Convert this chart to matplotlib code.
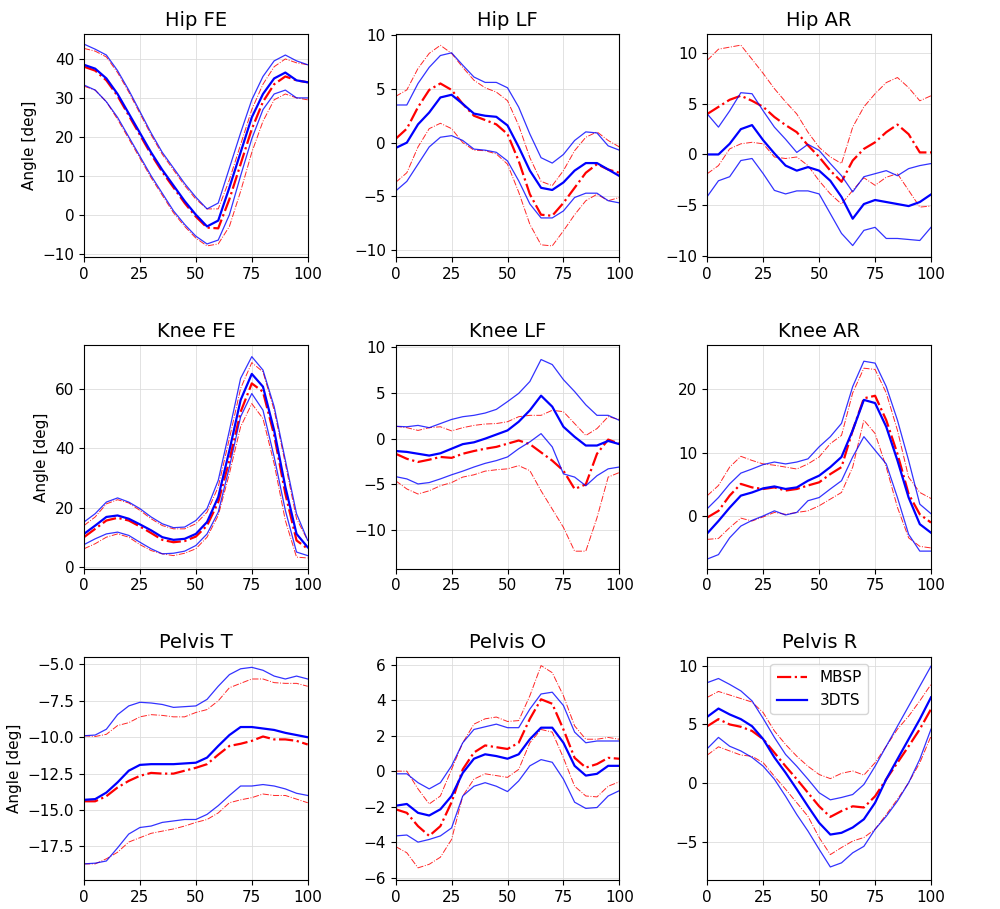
import matplotlib
matplotlib.use("Agg")
import matplotlib.pyplot as plt

# gait cycle [%]
cycle = [0, 5, 10, 15, 20, 25, 30, 35, 40, 45, 50, 55, 60, 65, 70, 75, 80, 85, 90, 95, 100]

titles = ["Hip FE", "Hip LF", "Hip AR",
          "Knee FE", "Knee LF", "Knee AR",
          "Pelvis T", "Pelvis O", "Pelvis R"]

# ---- Hip FE
hip_fe_mbsp_up = [42.7, 42, 40.5, 36.5, 31.5, 26, 20.5, 15.5, 11.5, 7.5, 4, 1.5, 1.5, 9, 18, 27, 33.5, 38, 40, 39, 38.5]
hip_fe_mbsp = [38, 37, 34.5, 30.5, 25.5, 20.5, 15.5, 11, 7, 3, -0.5, -3.3, -3.5, 4, 13, 22, 29, 33.5, 35.5, 34.5, 34]
hip_fe_mbsp_lo = [33, 32, 29, 24.5, 19.5, 14.5, 9.5, 5, 0.5, -3, -6, -8, -7.5, -3, 6, 16, 24, 29.5, 31, 30, 29.5]
hip_fe_3dts_up = [43.8, 42.5, 41, 37, 32, 26.5, 21, 16, 12, 8, 4.5, 1.5, 3, 12, 21, 29.5, 35.5, 39.5, 41, 39.5, 38.5]
hip_fe_3dts = [38.5, 37.5, 35, 31, 26, 21, 16, 11.5, 7.5, 3.5, 0, -3, -1.5, 7, 16, 25, 31, 35, 36.5, 34.5, 34]
hip_fe_3dts_lo = [33.3, 32, 29, 25, 20, 15, 10, 5.5, 1, -2.5, -5.5, -7.5, -6.5, 0, 10, 19.5, 27, 31, 32, 30, 30]

# ---- Hip LF
hip_lf_mbsp_up = [4.3, 4.9, 6.9, 8.3, 9.05, 8.3, 7, 5.8, 5.1, 4.7, 3.9, 1.6, -1.4, -3.6, -4.0, -2.6, -0.75, 0.5, 1.0, 0.2, -0.4]
hip_lf_mbsp = [0.35, 1.3, 3.3, 4.9, 5.5, 4.9, 3.6, 2.5, 2.1, 1.7, 0.8, -1.7, -4.8, -6.7, -6.8, -5.6, -4.2, -2.8, -2.0, -2.5, -2.8]
hip_lf_mbsp_lo = [-3.7, -2.8, -0.4, 1.3, 1.8, 1.3, 0, -0.7, -0.75, -1.05, -2, -4.6, -7.6, -9.5, -9.6, -8.2, -6.7, -5.4, -4.8, -5.4, -5.1]
hip_lf_3dts_up = [3.5, 3.5, 5.5, 7.0, 8.1, 8.35, 7.2, 6.1, 5.6, 5.6, 5.1, 3.3, 0.8, -1.4, -1.9, -1.1, 0.2, 1.0, 0.9, -0.3, -0.7]
hip_lf_3dts = [-0.5, 0, 1.7, 2.8, 4.2, 4.45, 3.6, 2.7, 2.5, 2.4, 1.6, -0.4, -2.6, -4.2, -4.4, -3.7, -2.6, -1.9, -1.9, -2.5, -3.1]
hip_lf_3dts_lo = [-4.5, -3.6, -2, -0.4, 0.5, 0.65, 0.2, -0.6, -0.7, -0.9, -1.7, -3.55, -5.7, -7.0, -7.0, -6.35, -5.1, -4.7, -4.7, -5.4, -5.6]

# ---- Hip AR
hip_ar_mbsp_up = [9.3, 10.4, 10.6, 10.8, 9.4, 8.0, 6.5, 5.2, 4.0, 2.2, 0.7, -0.25, -0.9, 2.7, 4.7, 6.0, 7.1, 7.6, 6.6, 5.3, 5.8]
hip_ar_mbsp = [4.0, 4.7, 5.4, 5.8, 5.3, 4.7, 3.7, 2.9, 2.2, 0.9, -0.25, -1.6, -2.7, -0.6, 0.55, 1.2, 2.2, 2.95, 2.0, 0.2, 0.2]
hip_ar_mbsp_lo = [-1.9, -1.1, 0.55, 1.05, 1.2, 1.05, -0.25, -0.4, -0.25, -1.1, -2.6, -3.9, -4.9, -3.55, -2.3, -3.05, -2.25, -1.9, -3.55, -5.2, -5.1]
hip_ar_3dts_up = [4.0, 2.7, 4.3, 6.1, 6.0, 4.3, 2.7, 1.5, 0.2, 1.0, 0.4, -0.9, -2.1, -3.7, -2.2, -1.9, -1.6, -2.1, -1.4, -1.1, -0.9]
hip_ar_3dts = [0, 0, 1.05, 2.5, 2.9, 1.4, 0.1, -1.1, -1.6, -1.25, -1.6, -2.6, -4.2, -6.35, -4.9, -4.5, -4.7, -4.9, -5.1, -4.7, -3.95]
hip_ar_3dts_lo = [-4.15, -2.6, -2.2, -0.6, -0.4, -1.9, -3.55, -3.9, -3.6, -3.6, -3.9, -5.85, -7.8, -9.0, -7.5, -7.2, -8.3, -8.3, -8.4, -8.5, -7.2]

# ---- Knee FE
knee_fe_mbsp_up = [14, 16.9, 21.3, 22.7, 21.6, 19.1, 16.3, 14, 12.9, 12.9, 14.6, 18.5, 27, 43.3, 60.1, 68.8, 65.7, 52.8, 34.8, 16.3, 9]
knee_fe_mbsp = [10.1, 12.9, 15.7, 16.6, 15.7, 13.7, 11.5, 9.2, 8.4, 8.8, 10.3, 14, 21.9, 36, 52.2, 61.8, 59, 44.4, 24.7, 9, 6.2]
knee_fe_mbsp_lo = [6.2, 7.9, 10.1, 11.2, 10.1, 7.6, 5.6, 4.5, 3.9, 4.7, 6.2, 10.1, 17.4, 31.5, 47.2, 55, 50, 34.8, 15.7, 3.4, 3.1]
knee_fe_3dts_up = [15.2, 18, 21.9, 23.3, 21.9, 19.7, 16.9, 14.6, 13.3, 13.5, 15.7, 19.7, 29.2, 46, 63.5, 70.8, 66.3, 54, 36, 18, 9]
knee_fe_3dts = [11.2, 14, 16.9, 17.4, 16.3, 14.4, 12.4, 10.1, 9.2, 9.55, 11.2, 15.2, 23.6, 39.3, 56.2, 65, 60.7, 46, 27, 11.2, 6.7]
knee_fe_3dts_lo = [7.6, 9.55, 11.2, 11.8, 10.7, 8.4, 6.2, 4.5, 4.7, 5.4, 7.3, 11.2, 18.5, 33.7, 50.6, 58.4, 52.8, 37.1, 19.1, 5.1, 3.9]

# ---- Knee LF
knee_lf_mbsp_up = [1.35, 1.2, 0.9, 1.2, 1.3, 0.85, 1.2, 1.45, 1.6, 1.65, 1.85, 2.4, 2.55, 2.55, 3.1, 2.95, 1.65, 0.35, 1.1, 2.4, 2.1]
knee_lf_mbsp = [-1.65, -2.2, -2.55, -2.3, -2.0, -2.1, -1.65, -1.35, -1.1, -0.9, -0.55, -0.2, -0.6, -1.5, -2.4, -3.5, -5.5, -5.0, -1.65, -0.1, -0.55]
knee_lf_mbsp_lo = [-4.6, -5.5, -6.05, -5.7, -5.15, -4.8, -4.2, -3.95, -3.55, -3.4, -3.3, -2.95, -3.5, -5.7, -7.7, -9.7, -12.3, -12.3, -8.65, -4.2, -3.7]
knee_lf_3dts_up = [1.35, 1.3, 1.45, 1.2, 1.65, 2.1, 2.4, 2.55, 2.8, 3.2, 4.05, 4.95, 6.25, 8.65, 8.1, 6.45, 5.15, 3.7, 2.55, 2.55, 2.0]
knee_lf_3dts = [-1.35, -1.45, -1.65, -1.85, -1.6, -1.1, -0.6, -0.4, 0, 0.45, 0.9, 1.85, 3.1, 4.7, 3.5, 1.3, 0.2, -0.75, -0.75, -0.25, -0.6]
knee_lf_3dts_lo = [-4.15, -4.4, -4.95, -4.8, -4.4, -3.95, -3.55, -3.1, -2.7, -2.4, -2.0, -1.1, -0.35, 0.55, -0.9, -3.85, -4.2, -5.15, -4.05, -3.3, -3.1]

# ---- Knee AR
knee_ar_mbsp_up = [3.2, 4.8, 7.7, 9.4, 8.75, 8.2, 8.0, 7.7, 7.4, 8.2, 9.3, 11.4, 12.7, 19.4, 23.3, 23.1, 19.4, 13.5, 6.1, 3.7, 2.75]
knee_ar_mbsp = [-0.25, 0.8, 3.2, 5.05, 4.5, 4.25, 4.5, 4.0, 4.25, 4.8, 5.3, 6.6, 7.7, 13.5, 18.55, 18.95, 15.1, 9.8, 3.45, 0.25, -1.05]
knee_ar_mbsp_lo = [-3.7, -3.55, -1.85, -0.35, -0.8, -0.15, 0.55, 0.25, 0.55, 0.8, 1.6, 2.65, 3.7, 7.7, 15.1, 13.0, 7.7, 1.35, -3.45, -4.8, -5.05]
knee_ar_3dts_up = [1.15, 2.9, 5.05, 6.75, 7.4, 8.1, 8.5, 8.2, 8.5, 9.0, 10.9, 12.5, 14.6, 20.4, 24.4, 24.1, 20.4, 15.1, 8.75, 1.85, 0.35]
knee_ar_3dts = [-2.75, -0.8, 1.3, 3.2, 3.7, 4.35, 4.65, 4.25, 4.5, 5.55, 6.35, 7.7, 9.3, 13.5, 18.3, 17.8, 14.05, 8.75, 2.9, -1.3, -2.65]
knee_ar_3dts_lo = [-6.8, -6.1, -3.45, -1.6, -0.7, 0, 0.8, 0.15, 0.55, 2.4, 2.9, 4.25, 5.55, 9.3, 12.5, 10.35, 8.2, 2.9, -2.9, -5.55, -5.55]

# ---- Pelvis T
pelvis_t_mbsp_up = [-9.9, -9.95, -9.8, -9.2, -9.0, -8.6, -8.45, -8.5, -8.6, -8.6, -8.3, -8.1, -7.5, -6.6, -6.3, -6.0, -6.0, -6.25, -6.3, -6.3, -6.5]
pelvis_t_mbsp = [-14.4, -14.4, -14.05, -13.45, -13.0, -12.65, -12.45, -12.5, -12.5, -12.3, -12.1, -11.85, -11.2, -10.6, -10.45, -10.25, -9.95, -10.15, -10.15, -10.25, -10.5]
pelvis_t_mbsp_lo = [-18.7, -18.7, -18.35, -17.9, -17.2, -16.9, -16.6, -16.45, -16.3, -16.1, -15.85, -15.65, -15.2, -14.5, -14.3, -14.15, -13.9, -14.0, -14.0, -14.25, -14.5]
pelvis_t_3dts_up = [-9.9, -9.85, -9.45, -8.45, -7.85, -7.6, -7.65, -7.75, -7.95, -7.9, -7.85, -7.4, -6.5, -5.7, -5.3, -5.2, -5.4, -5.8, -6.0, -5.8, -6.0]
pelvis_t_3dts = [-14.3, -14.25, -13.8, -13.1, -12.3, -11.9, -11.85, -11.85, -11.85, -11.8, -11.75, -11.4, -10.6, -9.85, -9.3, -9.3, -9.4, -9.5, -9.7, -9.85, -10.0]
pelvis_t_3dts_lo = [-18.7, -18.65, -18.5, -17.6, -16.65, -16.2, -16.1, -15.85, -15.75, -15.65, -15.65, -15.3, -14.7, -14.0, -13.35, -13.35, -13.25, -13.35, -13.55, -13.85, -14.0]

# ---- Pelvis O
pelvis_o_mbsp_up = [0, 0, -1.0, -1.85, -1.4, 0.1, 1.6, 2.65, 2.95, 3.05, 2.8, 2.85, 4.25, 5.95, 5.55, 4.25, 2.55, 1.8, 1.8, 1.9, 1.8]
pelvis_o_mbsp = [-2.15, -2.35, -3.1, -3.65, -3.1, -1.75, 0.1, 1.05, 1.45, 1.35, 1.25, 1.6, 2.95, 4.05, 3.8, 2.35, 0.75, 0.2, 0.4, 0.75, 0.7]
pelvis_o_mbsp_lo = [-4.25, -4.6, -5.45, -5.25, -4.85, -3.85, -1.4, -0.45, -0.15, -0.25, -0.35, 0.1, 1.6, 2.35, 2.2, 0.75, -0.85, -1.4, -1.45, -0.85, -0.6]
pelvis_o_3dts_up = [-0.15, -0.15, -0.65, -1.0, -0.65, 0.3, 1.6, 2.35, 2.5, 2.65, 2.45, 2.45, 3.5, 4.35, 4.45, 3.7, 2.2, 1.6, 1.7, 1.7, 1.7]
pelvis_o_3dts = [-1.95, -1.85, -2.35, -2.5, -2.15, -1.4, -0.1, 0.7, 0.95, 0.85, 0.7, 0.95, 1.8, 2.45, 2.45, 1.6, 0.3, -0.25, -0.15, 0.3, 0.3]
pelvis_o_3dts_lo = [-3.65, -3.6, -4.0, -3.85, -3.65, -3.2, -1.4, -0.85, -0.65, -0.85, -1.15, -0.55, 0.3, 0.65, 0.5, -0.45, -1.75, -2.1, -2.05, -1.4, -1.1]

# ---- Pelvis R
pelvis_r_mbsp_up = [7.3, 7.8, 7.5, 7.2, 6.9, 6.0, 4.45, 3.3, 2.3, 1.45, 0.75, 0.4, 0.85, 1.05, 0.7, 1.75, 3.15, 4.6, 5.7, 7.0, 8.4]
pelvis_r_mbsp = [4.85, 5.45, 5.0, 4.8, 4.45, 3.75, 2.6, 1.45, 0.35, -0.8, -1.95, -2.85, -2.35, -1.95, -2.05, -1.1, 0.35, 1.75, 3.15, 4.6, 6.3]
pelvis_r_mbsp_lo = [2.4, 3.1, 2.75, 2.4, 2.3, 1.75, 0.6, -0.5, -1.65, -2.8, -4.6, -6.05, -5.45, -4.9, -4.6, -3.9, -2.65, -1.35, 0.05, 1.75, 4.0]
pelvis_r_3dts_up = [8.55, 8.9, 8.4, 7.85, 7.0, 5.5, 3.9, 2.45, 1.45, 0.35, -0.8, -1.4, -1.2, -0.95, -0.1, 1.45, 3.15, 4.85, 6.55, 8.25, 9.95]
pelvis_r_3dts = [5.65, 6.35, 5.85, 5.45, 4.85, 3.75, 2.2, 0.9, -0.5, -1.95, -3.35, -4.35, -4.2, -3.75, -3.05, -1.65, 0.35, 2.05, 3.75, 5.45, 7.3]
pelvis_r_3dts_lo = [2.95, 3.9, 3.15, 2.75, 2.2, 1.45, 0.35, -1.1, -2.65, -4.05, -5.6, -7.1, -6.75, -5.9, -5.35, -3.9, -2.8, -1.5, 0.05, 2.05, 4.6]

mbsp = [
    (hip_fe_mbsp_lo, hip_fe_mbsp, hip_fe_mbsp_up),
    (hip_lf_mbsp_lo, hip_lf_mbsp, hip_lf_mbsp_up),
    (hip_ar_mbsp_lo, hip_ar_mbsp, hip_ar_mbsp_up),
    (knee_fe_mbsp_lo, knee_fe_mbsp, knee_fe_mbsp_up),
    (knee_lf_mbsp_lo, knee_lf_mbsp, knee_lf_mbsp_up),
    (knee_ar_mbsp_lo, knee_ar_mbsp, knee_ar_mbsp_up),
    (pelvis_t_mbsp_lo, pelvis_t_mbsp, pelvis_t_mbsp_up),
    (pelvis_o_mbsp_lo, pelvis_o_mbsp, pelvis_o_mbsp_up),
    (pelvis_r_mbsp_lo, pelvis_r_mbsp, pelvis_r_mbsp_up),
]
tdts = [
    (hip_fe_3dts_lo, hip_fe_3dts, hip_fe_3dts_up),
    (hip_lf_3dts_lo, hip_lf_3dts, hip_lf_3dts_up),
    (hip_ar_3dts_lo, hip_ar_3dts, hip_ar_3dts_up),
    (knee_fe_3dts_lo, knee_fe_3dts, knee_fe_3dts_up),
    (knee_lf_3dts_lo, knee_lf_3dts, knee_lf_3dts_up),
    (knee_ar_3dts_lo, knee_ar_3dts, knee_ar_3dts_up),
    (pelvis_t_3dts_lo, pelvis_t_3dts, pelvis_t_3dts_up),
    (pelvis_o_3dts_lo, pelvis_o_3dts, pelvis_o_3dts_up),
    (pelvis_r_3dts_lo, pelvis_r_3dts, pelvis_r_3dts_up),
]

ylims = [(-10.9, 46.4), (-10.65, 10.1), (-10.15, 11.9),
         (-0.45, 74.6), (-14.2, 10.2), (-8.3, 26.9),
         (-19.8, -4.47), (-6.13, 6.45), (-8.2, 10.75)]

fig, axes = plt.subplots(3, 3, figsize=(10, 9.09), dpi=100)
fig.subplots_adjust(left=0.084, right=0.931, top=0.9626, bottom=0.032,
                    wspace=0.393, hspace=0.395)

for i, ax in enumerate(axes.flat):
    lo, mu, up = mbsp[i]
    ax.plot(cycle, mu, '-.', color='red', lw=1.6, label='MBSP')
    ax.plot(cycle, up, '-.', color='red', lw=0.7, alpha=0.85)
    ax.plot(cycle, lo, '-.', color='red', lw=0.7, alpha=0.85)
    lo, mu, up = tdts[i]
    ax.plot(cycle, mu, '-', color='blue', lw=1.6, label='3DTS')
    ax.plot(cycle, up, '-', color='blue', lw=0.9, alpha=0.8)
    ax.plot(cycle, lo, '-', color='blue', lw=0.9, alpha=0.8)

    ax.set_title(titles[i], fontsize=14)
    ax.set_xlim(0, 100)
    ax.set_ylim(*ylims[i])
    ax.set_xticks([0, 25, 50, 75, 100])
    ax.tick_params(labelsize=11)
    ax.grid(True, color='#dddddd', lw=0.6)
    if i % 3 == 0:
        ax.set_ylabel('Angle [deg]', fontsize=11)
    if i >= 6:
        ax.set_xlabel('Cycle [%]', fontsize=11)

axes[2, 1].set_yticks([-6, -4, -2, 0, 2, 4, 6])
axes[2, 2].legend(loc='upper center', fontsize=11)

fig.savefig('out.png', dpi=100)
